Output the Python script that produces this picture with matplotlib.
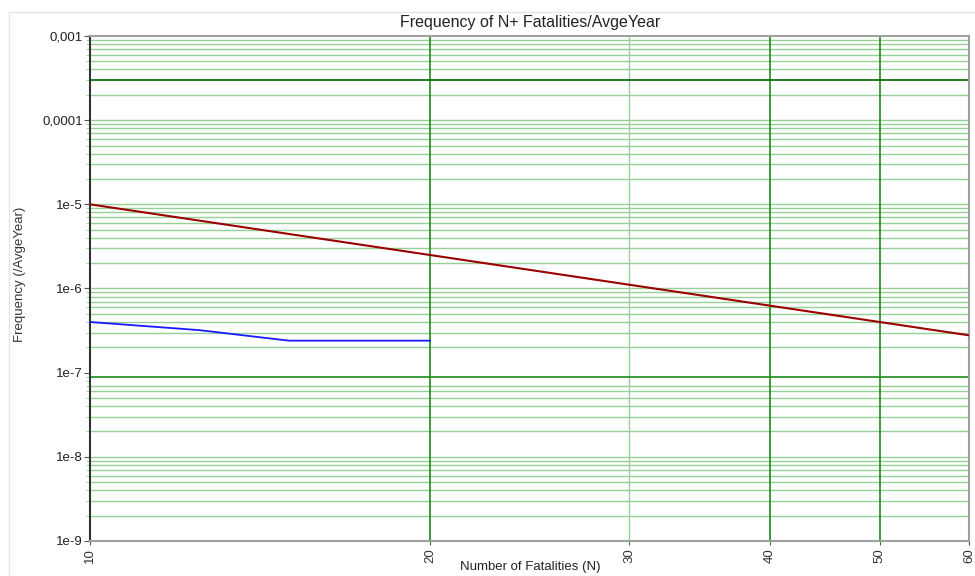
import numpy as np
import matplotlib
matplotlib.use("Agg")
from matplotlib import pyplot as plt
from matplotlib.patches import Rectangle
from matplotlib.ticker import FixedLocator, FixedFormatter, NullFormatter

plt.rcParams['font.family'] = ['Liberation Sans', 'DejaVu Sans']

# FN curve (risk result)
fn_n = [10, 12.5, 15, 20]
fn_freq = [4.0e-7, 3.2e-7, 2.4e-7, 2.4e-7]

# sloping criterion line
crit_n = [10, 20, 30, 40, 50, 60]
crit_freq = [1.0e-5, 2.5e-6, 1.11e-6, 6.25e-7, 4.0e-7, 2.78e-7]

# horizontal limit lines
upper_limit = 3e-4
lower_limit = 9e-8

# axis ticks
x_ticks = [10, 20, 30, 40, 50, 60]
x_dark = [20, 40, 50]
y_ticks = [1e-9, 1e-8, 1e-7, 1e-6, 1e-5, 1e-4, 1e-3]
y_labels = ["1e-9", "1e-8", "1e-7", "1e-6", "1e-5", "0,0001", "0,001"]

fig = plt.figure(figsize=(9.75, 5.76), dpi=100)
# light frame around the chart area
fig.patches.append(Rectangle((9/975, -0.1), 1.1, 1 - 12/576 + 0.1,
                             transform=fig.transFigure, fill=False,
                             edgecolor="#e6e6dc", linewidth=1.0))
ax = fig.add_axes([90/975, 1 - 541/576, (969 - 90)/975, (541 - 36)/576])

ax.set_xscale("log")
ax.set_yscale("log")
ax.set_xlim(10, 60)
ax.set_ylim(1e-9, 1e-3)

# grid
minor_y = [m * 10.0**e for e in range(-9, -3) for m in range(2, 10)]
for y in y_ticks[1:-1] + minor_y:
    if np.isclose(y, upper_limit) or np.isclose(y, lower_limit):
        continue
    ax.axhline(y, color="#97d097", linewidth=1.0, zorder=1)
for x in x_ticks[1:-1]:
    if x in x_dark:
        ax.axvline(x, color="#1a8a1a", linewidth=1.2, zorder=1)
    else:
        ax.axvline(x, color="#97d097", linewidth=1.0, zorder=1)

ax.axhline(upper_limit, color="#006400", linewidth=1.2, zorder=2)
ax.axhline(lower_limit, color="#1a8a1a", linewidth=1.2, zorder=2)

ax.plot(crit_n, crit_freq, color="#9b0000", linewidth=1.5, zorder=3)
ax.plot(fn_n, fn_freq, color="#1a1aff", linewidth=1.3, zorder=3)

# ticks
ax.xaxis.set_major_locator(FixedLocator(x_ticks))
ax.xaxis.set_major_formatter(FixedFormatter([str(v) for v in x_ticks]))
ax.xaxis.set_minor_locator(FixedLocator([]))
ax.xaxis.set_minor_formatter(NullFormatter())
ax.yaxis.set_major_locator(FixedLocator(y_ticks))
ax.yaxis.set_major_formatter(FixedFormatter(y_labels))
ax.yaxis.set_minor_locator(FixedLocator(minor_y))
ax.yaxis.set_minor_formatter(NullFormatter())
ax.tick_params(axis="x", which="major", labelsize=9.5, labelcolor="#333333",
               rotation=90, length=3, color="#1a8a1a", pad=2)
ax.tick_params(axis="y", which="major", labelsize=9.5, labelcolor="#222222",
               length=4, color="#555555", pad=1)
ax.tick_params(axis="y", which="minor", length=3, color="#97d097")

for s in ["top", "right", "bottom"]:
    ax.spines[s].set_color("#a0a0a0")
    ax.spines[s].set_linewidth(1.5)
ax.spines["left"].set_color("#333333")
ax.spines["left"].set_linewidth(1.5)

fig.text(530/975, 1 - 22/576, "Frequency of N+ Fatalities/AvgeYear",
         ha="center", va="center", fontsize=11.5, color="#222222")
fig.text(20/975, 1 - 274/576, "Frequency (/AvgeYear)", rotation=90,
         ha="center", va="center", fontsize=9.5, color="#333333")
fig.text(530/975, 1 - 567/576, "Number of Fatalities (N)",
         ha="center", va="center", fontsize=9.5, color="#222222")

fig.savefig("out.png", dpi=100)
